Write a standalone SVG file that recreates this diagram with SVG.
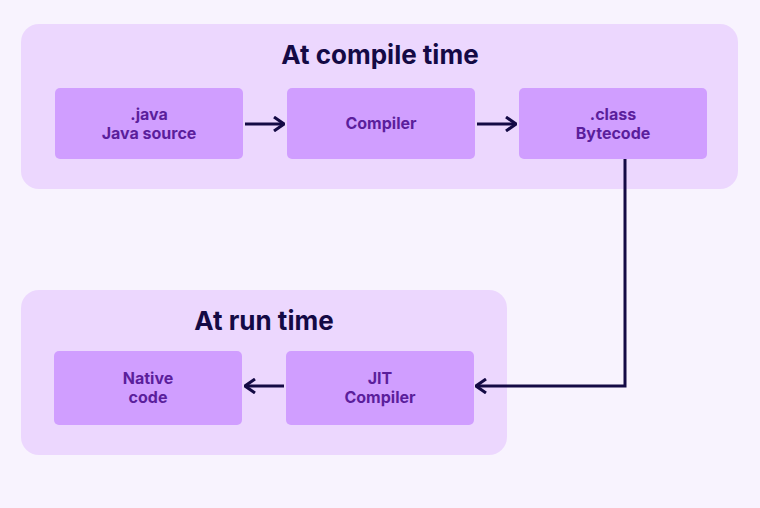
<svg xmlns="http://www.w3.org/2000/svg" width="760" height="508" viewBox="0 0 760 508">
<style>
.grp{fill:#ecd7fe}
.box{fill:#d09eff}
.t{font-family:Inter,"Liberation Sans",sans-serif;font-weight:700;font-size:16px;fill:#5b1e9c;text-anchor:middle}
.h{font-family:Inter,"Liberation Sans",sans-serif;font-weight:700;font-size:26px;fill:#140a45;text-anchor:middle}
.c{fill:none;stroke:#140a45;stroke-width:3;marker-end:url(#a)}
</style>
<defs><marker id="a" markerWidth="12" markerHeight="16" refX="11" refY="8" orient="auto" markerUnits="userSpaceOnUse"><path d="M1,1 L11,8 L1,15" fill="none" stroke="#140a45" stroke-width="3"/></marker></defs>
<rect width="760" height="508" fill="#f8f3fe"/>
<g id="compile"><rect class="grp" x="21" y="24" width="717" height="165" rx="18"/><text class="h" x="380" y="64">At compile time</text></g>
<g id="run"><rect class="grp" x="21" y="290" width="486" height="165" rx="18"/><text class="h" x="264" y="330">At run time</text></g>
<g id="java"><rect class="box" x="55" y="88" width="188" height="71" rx="5"/><text class="t" x="149" y="120">.java</text><text class="t" x="149" y="139">Java source</text></g>
<g id="compiler"><rect class="box" x="287" y="88" width="188" height="71" rx="5"/><text class="t" x="381" y="129">Compiler</text></g>
<g id="class"><rect class="box" x="519" y="88" width="188" height="71" rx="5"/><text class="t" x="613" y="120">.class</text><text class="t" x="613" y="139">Bytecode</text></g>
<g id="native"><rect class="box" x="54" y="351" width="188" height="74" rx="5"/><text class="t" x="148" y="384">Native</text><text class="t" x="148" y="403">code</text></g>
<g id="jit"><rect class="box" x="286" y="351" width="188" height="74" rx="5"/><text class="t" x="380" y="384">JIT</text><text class="t" x="380" y="403">Compiler</text></g>
<g id="connectors">
<path class="c" d="M245,124 H284"/>
<path class="c" d="M477,124 H516"/>
<path class="c" d="M625,159 V386 H476"/>
<path class="c" d="M284,386 H245"/>
</g>
</svg>
